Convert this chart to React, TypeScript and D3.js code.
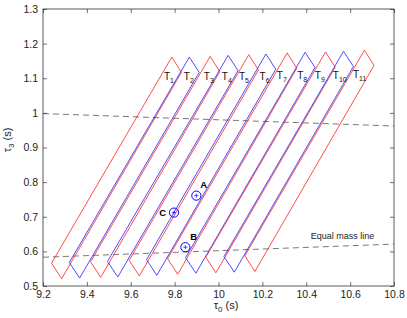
import React, { useEffect, useRef } from 'react';
import * as d3 from 'd3';

// tile labels T1..T11 and their corner vertices (tau0, tau3)
const tileNames = ['1', '2', '3', '4', '5', '6', '7', '8', '9', '10', '11'];
const bottomTau0 = [9.285, 9.367, 9.463, 9.541, 9.639, 9.719, 9.814, 9.897, 9.988, 10.072, 10.166];
const bottomTau3 = [0.521, 0.523, 0.525, 0.526, 0.529, 0.531, 0.534, 0.537, 0.538, 0.540, 0.542];
const leftTau0 = [9.239, 9.320, 9.417, 9.494, 9.593, 9.672, 9.768, 9.850, 9.942, 10.025, 10.120];
const leftTau3 = [0.566, 0.568, 0.570, 0.571, 0.574, 0.576, 0.579, 0.582, 0.583, 0.585, 0.587];
const topTau0 = [9.787, 9.867, 9.962, 10.044, 10.138, 10.216, 10.313, 10.395, 10.488, 10.570, 10.665];
const topTau3 = [1.161, 1.161, 1.163, 1.166, 1.168, 1.170, 1.173, 1.175, 1.176, 1.178, 1.181];
const rightTau0 = [9.831, 9.912, 10.006, 10.089, 10.182, 10.261, 10.357, 10.440, 10.532, 10.615, 10.709];
const rightTau3 = [1.117, 1.117, 1.119, 1.122, 1.124, 1.126, 1.129, 1.131, 1.132, 1.134, 1.137];
const labelTau0 = [9.751, 9.842, 9.933, 10.015, 10.093, 10.187, 10.266, 10.359, 10.439, 10.521, 10.613];
const labelTau3 = [1.105, 1.105, 1.105, 1.105, 1.105, 1.105, 1.107, 1.107, 1.107, 1.107, 1.112];

// dashed lines (end points)
const upperLineTau0 = [9.2, 10.8];
const upperLineTau3 = [0.998, 0.962];
const massLineTau0 = [9.2, 10.8];
const massLineTau3 = [0.583, 0.621];

// marked points
const pointNames = ['A', 'B', 'C'];
const pointTau0 = [9.899, 9.849, 9.797];
const pointTau3 = [0.761, 0.612, 0.712];
const pointLabelTau0 = [9.932, 9.887, 9.746];
const pointLabelTau3 = [0.792, 0.643, 0.712];

const xTicks = [9.2, 9.4, 9.6, 9.8, 10, 10.2, 10.4, 10.6, 10.8];
const yTicks = [0.5, 0.6, 0.7, 0.8, 0.9, 1, 1.1, 1.2, 1.3];

const width = 407;
const height = 318;
const font = '"Liberation Sans", Arial, Helvetica, sans-serif';

const App = () => {
  const ref = useRef<SVGSVGElement>(null);

  useEffect(() => {
    const svg = d3.select(ref.current);
    svg.selectAll('*').remove();

    const margin = { top: 9, right: 13, bottom: 32, left: 43 };
    const x = d3.scaleLinear().domain([9.2, 10.8]).range([margin.left, width - margin.right]);
    const y = d3.scaleLinear().domain([0.5, 1.3]).range([height - margin.bottom, margin.top]);

    svg.append('rect').attr('width', width).attr('height', height).attr('fill', '#fff');

    // dashed lines
    const line = d3.line<[number, number]>().x(d => x(d[0])).y(d => y(d[1]));
    [[upperLineTau0, upperLineTau3], [massLineTau0, massLineTau3]].forEach(([t0, t3]) => {
      svg.append('path')
        .attr('d', line(t0.map((v, i) => [v, t3[i]] as [number, number])))
        .attr('fill', 'none')
        .attr('stroke', '#555')
        .attr('stroke-width', 0.8)
        .attr('stroke-dasharray', '6,4');
    });

    // tiles
    const tiles = tileNames.map((name, i) => ({
      name,
      i,
      pts: [
        [bottomTau0[i], bottomTau3[i]],
        [leftTau0[i], leftTau3[i]],
        [topTau0[i], topTau3[i]],
        [rightTau0[i], rightTau3[i]],
      ] as [number, number][],
    }));

    const closed = d3.line<[number, number]>().x(d => x(d[0])).y(d => y(d[1])).curve(d3.curveLinearClosed);
    svg.append('g')
      .selectAll('path')
      .data(tiles)
      .join('path')
      .attr('d', d => closed(d.pts))
      .attr('fill', 'none')
      .attr('stroke', d => (d.i % 2 === 0 ? '#ff2020' : '#2020ff'))
      .attr('stroke-width', 0.8);

    const labels = svg.append('g')
      .selectAll('text')
      .data(tiles)
      .join('text')
      .attr('x', d => x(labelTau0[d.i]))
      .attr('y', d => y(labelTau3[d.i]) + 3.5)
      .attr('font-family', font)
      .attr('font-size', 10)
      .attr('fill', '#111');
    labels.append('tspan').text('T');
    labels.append('tspan').attr('font-size', 7).attr('dy', 3).text(d => d.name);

    // marked points
    const pts = svg.append('g')
      .selectAll('g')
      .data(pointNames.map((name, i) => ({ name, i })))
      .join('g');
    pts.append('circle')
      .attr('cx', d => x(pointTau0[d.i]))
      .attr('cy', d => y(pointTau3[d.i]))
      .attr('r', 4.6)
      .attr('fill', 'none')
      .attr('stroke', '#0000ff')
      .attr('stroke-width', 1);
    pts.append('path')
      .attr('d', d => {
        const cx = x(pointTau0[d.i]);
        const cy = y(pointTau3[d.i]);
        return `M${cx - 2},${cy}H${cx + 2}M${cx},${cy - 2}V${cy + 2}`;
      })
      .attr('stroke', '#0000ff')
      .attr('stroke-width', 0.7);
    pts.append('text')
      .attr('x', d => x(pointLabelTau0[d.i]))
      .attr('y', d => y(pointLabelTau3[d.i]) + 3.5)
      .attr('text-anchor', 'middle')
      .attr('font-family', font)
      .attr('font-size', 9.5)
      .attr('font-weight', 'bold')
      .attr('fill', '#000')
      .text(d => d.name);

    svg.append('text')
      .attr('x', x(10.42))
      .attr('y', y(0.645) + 3.5)
      .attr('font-family', font)
      .attr('font-size', 9)
      .attr('fill', '#222')
      .text('Equal mass line');

    // axes with inward ticks on all sides
    const axes = [
      { ax: d3.axisBottom(x).tickValues(xTicks).tickFormat(d3.format('')), t: `translate(0,${y(0.5)})` },
      { ax: d3.axisTop(x).tickValues(xTicks).tickFormat(() => ''), t: `translate(0,${y(1.3)})` },
      { ax: d3.axisLeft(y).tickValues(yTicks).tickFormat(d3.format('')), t: `translate(${x(9.2)},0)` },
      { ax: d3.axisRight(y).tickValues(yTicks).tickFormat(() => ''), t: `translate(${x(10.8)},0)` },
    ];
    axes.forEach(({ ax, t }) => {
      const g = svg.append('g')
        .attr('transform', t)
        .call(ax.tickSizeInner(-4).tickSizeOuter(0).tickPadding(5));
      g.select('.domain').remove();
      g.selectAll('line').attr('stroke', '#333').attr('stroke-width', 0.7);
      g.selectAll('text').attr('font-family', font).attr('font-size', 10.5).attr('fill', '#222');
    });

    svg.append('rect')
      .attr('x', x(9.2))
      .attr('y', y(1.3))
      .attr('width', x(10.8) - x(9.2))
      .attr('height', y(0.5) - y(1.3))
      .attr('fill', 'none')
      .attr('stroke', '#333')
      .attr('stroke-width', 0.8);

    // axis titles
    const xl = svg.append('text')
      .attr('x', 226)
      .attr('y', 309)
      .attr('text-anchor', 'middle')
      .attr('font-family', font)
      .attr('font-size', 11)
      .attr('fill', '#222');
    xl.append('tspan').text('\u03c4');
    xl.append('tspan').attr('font-size', 8).attr('dy', 3).text('0');
    xl.append('tspan').attr('dy', -3).text(' (s)');

    const yl = svg.append('text')
      .attr('transform', `translate(10.5,140) rotate(-90)`)
      .attr('text-anchor', 'middle')
      .attr('font-family', font)
      .attr('font-size', 11)
      .attr('fill', '#222');
    yl.append('tspan').text('\u03c4');
    yl.append('tspan').attr('font-size', 8).attr('dy', 3).text('3');
    yl.append('tspan').attr('dy', -3).text(' (s)');
  }, []);

  return (
    <svg
      ref={ref}
      width={width}
      height={height}
      style={{ position: 'absolute', left: 0, top: 0 }}
    />
  );
};

export default App;
